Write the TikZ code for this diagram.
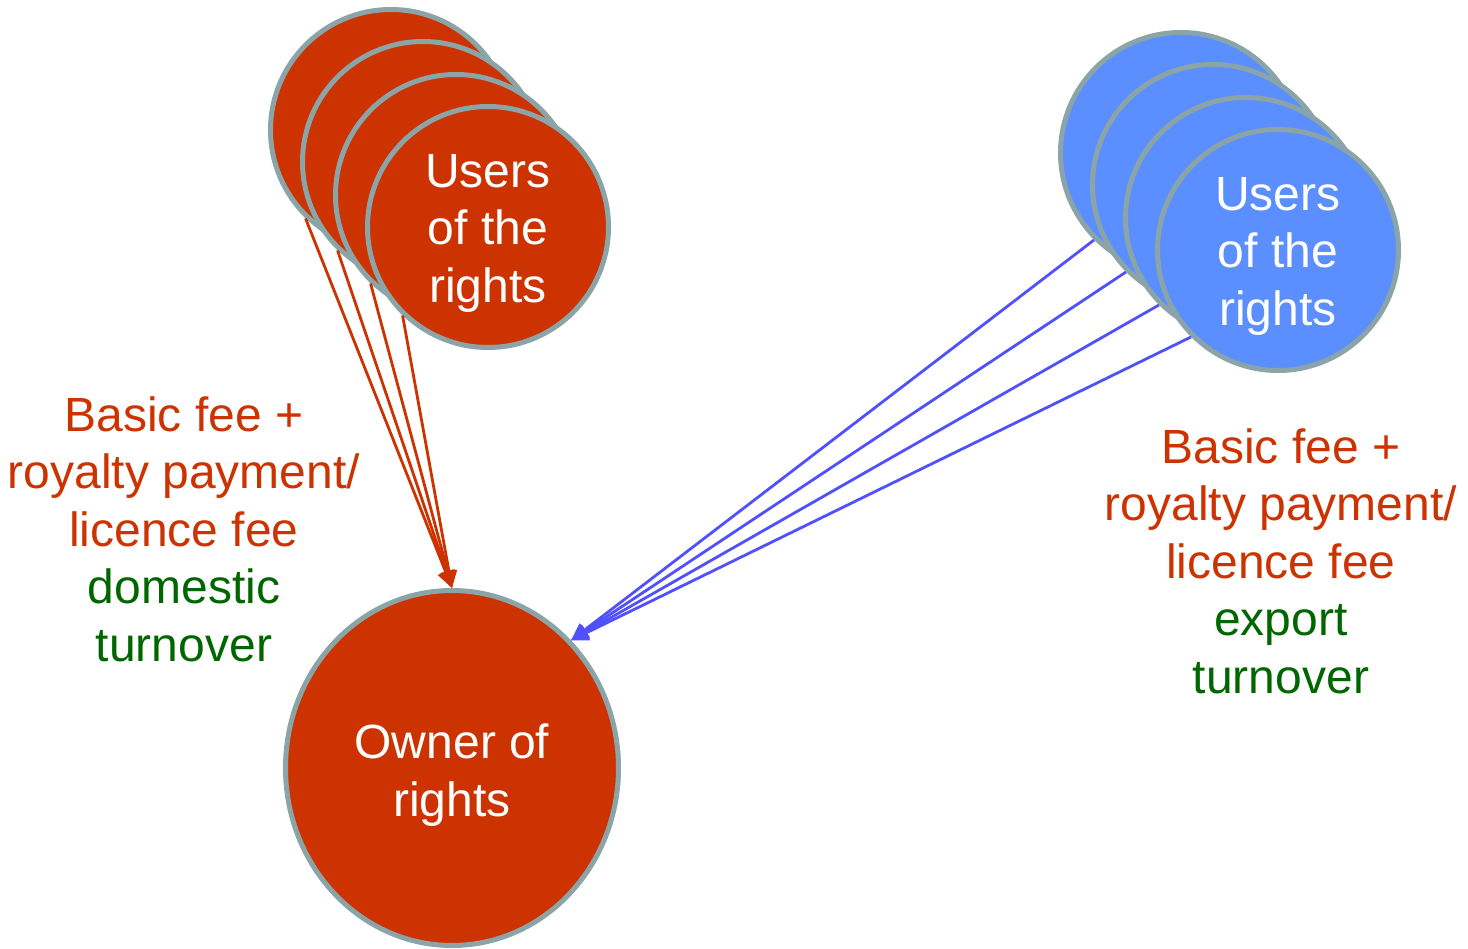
\documentclass[tikz,border=0pt]{standalone}
\usepackage{fontspec}
\setmainfont{Liberation Sans}
\usetikzlibrary{arrows.meta,shapes.geometric}
\definecolor{rust}{HTML}{CC3300}
\definecolor{rim}{HTML}{8AA4A7}
\definecolor{sky}{HTML}{5B8FFF}
\definecolor{flowblue}{HTML}{5050FF}
\definecolor{leaf}{HTML}{006600}
\begin{document}
\begin{tikzpicture}[x=1pt,y=-1pt,
  bigfont/.style={font=\fontsize{48}{57.5}\selectfont},
  disc/.style={circle, draw=rim, line width=5pt, minimum size=241pt,
    inner sep=0pt},
  reddisc/.style={disc, fill=rust},
  bluedisc/.style={disc, fill=sky},
  owner/.style={ellipse, draw=rim, fill=rust, line width=5pt,
    minimum width=333pt, minimum height=355pt, inner sep=0pt},
  intext/.style={text=white, align=center, bigfont, inner sep=0pt},
  feetext/.style={align=center, bigfont, text=rust},
  redflow/.style={draw=rust, line width=2.8pt,
    -{Triangle[length=17pt,width=16pt]}},
  blueflow/.style={draw=flowblue, line width=2.8pt,
    -{Triangle[length=17pt,width=16pt]}}
]
\useasboundingbox (0,0) rectangle (1468,949);

% stacked domestic users
\node[reddisc] (r1) at (391,130) {};
\node[reddisc] (r2) at (423,162) {};
\node[reddisc] (r3) at (456,195) {};
\node[reddisc] (r4) at (488,227) {};
\node[intext] (r4t) at ([yshift=-6pt]r4.center) {Users\\of the\\rights};

% stacked foreign users
\node[bluedisc] (b1) at (1181,153) {};
\node[bluedisc] (b2) at (1213,185) {};
\node[bluedisc] (b3) at (1246,218) {};
\node[bluedisc] (b4) at (1278,250) {};
\node[intext] (b4t) at ([yshift=-6pt]b4.center) {Users\\of the\\rights};

% rights holder
\node[owner] (own) at (452,768) {};
\node[intext] (ownt) at ([yshift=-7pt]own.center) {Owner of\\rights};

% payment flows
\foreach \n in {r1,r2,r3,r4}
  \draw[redflow] (\n.226) -- (own.north);
\foreach \n in {b1,b2,b3,b4}
  \draw[blueflow] (\n.225) -- (own.47);

% fee descriptions
\node[feetext] (dom) at (184,529)
  {Basic fee +\\royalty payment/\\licence fee\\\textcolor{leaf}{domestic}\\\textcolor{leaf}{turnover}};
\node[feetext] (exp) at (1281,561)
  {Basic fee +\\royalty payment/\\licence fee\\\textcolor{leaf}{export}\\\textcolor{leaf}{turnover}};
\end{tikzpicture}
\end{document}
